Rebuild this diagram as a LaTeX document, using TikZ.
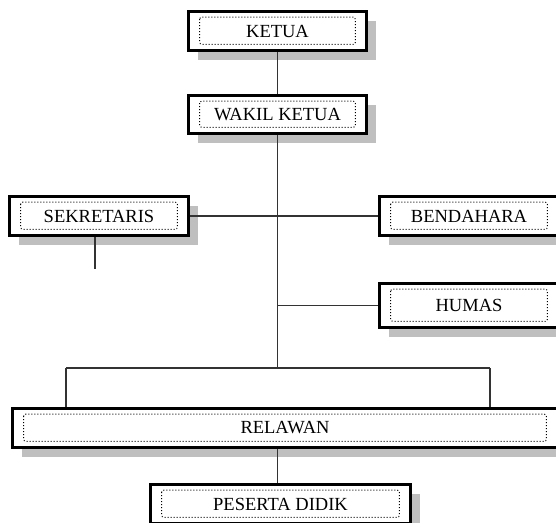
\documentclass[tikz,border=0pt]{standalone}
\usepackage{fontspec}
\setmainfont{Liberation Serif}
\usetikzlibrary{shadows}
\definecolor{bayangan}{HTML}{BFBFBF}
\definecolor{garis}{HTML}{333333}

\begin{document}
\begin{tikzpicture}[x=1pt, y=-1pt,
    jabatan/.style={draw=black, line width=2.6pt, fill=white, inner sep=0pt, text=black,
      font=\fontsize{18.5}{20}\selectfont,
      general shadow={shadow xshift=9pt, shadow yshift=-9pt, fill=bayangan, draw=none}},
    titik/.style={draw=black, line width=1pt, dotted, rounded corners=2pt},
    hubung/.style={draw=garis, line width=1.3pt}]
      \useasboundingbox (0,0) rectangle (556,522);
      \clip (0,0) rectangle (556,522);

      % Pengurus
      \node[jabatan, minimum width=178pt, minimum height=39pt] (ketua) at (277.5,31) {KETUA};
      \node[jabatan, minimum width=178pt, minimum height=38pt] (wakil) at (277.5,114.5) {WAKIL KETUA};
      \node[jabatan, minimum width=179pt, minimum height=39pt] (sekretaris) at (99,216) {SEKRETARIS};
      \node[jabatan, minimum width=179pt, minimum height=39pt] (bendahara) at (469,216) {BENDAHARA};
      \node[jabatan, minimum width=179pt, minimum height=44pt] (humas) at (469,305.5) {HUMAS};
      \node[jabatan, minimum width=545pt, minimum height=39pt] (relawan) at (285,428) {RELAWAN};
      \node[jabatan, minimum width=260pt, minimum height=39pt] (peserta) at (280.5,504) {PESERTA DIDIK};

      % Kotak bertitik
      \foreach \n in {ketua, wakil, sekretaris, bendahara, humas, relawan, peserta}
        \draw[titik] ([shift={(12.5,7)}]\n.north west) rectangle ([shift={(-12.5,-7.5)}]\n.south east);

      % Garis
      \coordinate (tengah) at (277.5,368);
      \coordinate (kiri) at (66,368);
      \coordinate (kanan) at (490,368);
      \coordinate (ujung) at (95,269);

      \draw[hubung] (ketua) -- (wakil);
      \draw[hubung] (wakil) -- (tengah);
      \draw[hubung] (sekretaris.east) -- (bendahara.west);
      \draw[hubung] (humas.west) -- (humas.west -| tengah);
      \draw[hubung] (ujung |- sekretaris.south) -- (ujung);
      \draw[hubung] (kiri) -- (kanan);
      \draw[hubung] (kiri) -- (kiri |- relawan.north);
      \draw[hubung] (kanan) -- (kanan |- relawan.north);
      \draw[hubung] (relawan.south -| tengah) -- (peserta.north -| tengah);
    \end{tikzpicture}
\end{document}
